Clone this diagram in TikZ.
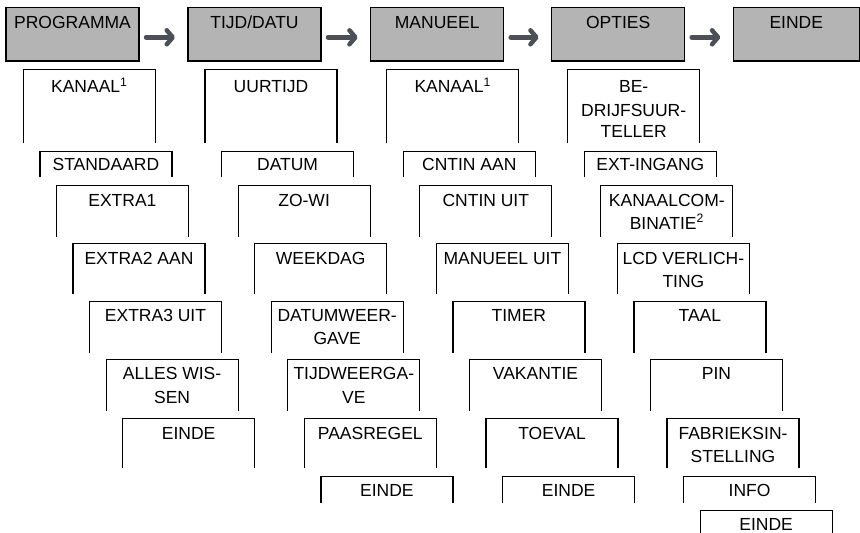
\documentclass[tikz,border=0pt]{standalone}
\usepackage{fontspec}
\setmainfont{Liberation Sans}
\usetikzlibrary{arrows.meta}
\definecolor{topgray}{RGB}{180,180,180}
\definecolor{arrowgray}{RGB}{74,80,86}
\tikzset{
  topbox/.style={draw=black, line width=1.2pt, fill=topgray, anchor=north west,
    inner sep=0pt, outer sep=0pt, minimum width=133pt,
    text height=21.4pt, text depth=32.3pt,
    font=\fontsize{17.5pt}{23pt}\selectfont},
  boxarea/.style={anchor=north west, inner sep=0pt, outer sep=0pt, minimum width=132pt},
  frame/.style={line width=1.2pt, line cap=butt, line join=miter},
  lbl/.style={anchor=north, inner sep=0pt, align=center,
    font=\fontsize{17.5pt}{23pt}\selectfont},
  flow/.style={draw=arrowgray, line width=4.5pt, line cap=round,
    -{Straight Barb[length=6pt, width=14pt, round]},
    shorten <=7pt, shorten >=13pt}
}
% name, x, top, height, shift of text top, text
\newcommand\optbox[6]{%
  \node[boxarea, minimum height=#4pt] (#1) at (#2,#3) {};
  \draw[frame] (#1.south west) -- (#1.north west) -- (#1.north east) -- (#1.south east);
  \node[lbl] (#1t) at ([yshift=-#5pt]#1.north) {\rule{0pt}{15pt}#6};
}
\begin{document}
\begin{tikzpicture}[x=1pt, y=-1pt]
\useasboundingbox (0,0) rectangle (860,533);

% top row
\node[topbox] (prog) at (6,7.3) {PROGRAMMA};
\node[topbox] (tijd) at (188,7.3) {TIJD/DATU};
\node[topbox] (man) at (370.7,7.3) {MANUEEL};
\node[topbox] (opt) at (551.7,7.3) {OPTIES};
\node[topbox, minimum width=126pt] (end) at (733.3,7.3) {EINDE};

\draw[flow] ([yshift=-3.15pt]prog.east) -- ([yshift=-3.15pt]tijd.west);
\draw[flow] ([yshift=-3.15pt]tijd.east) -- ([yshift=-3.15pt]man.west);
\draw[flow] ([yshift=-3.15pt]man.east) -- ([yshift=-3.15pt]opt.west);
\draw[flow] ([yshift=-3.15pt]opt.east) -- ([yshift=-3.15pt]end.west);

% column 1
\optbox{a1}{23.3}{69.3}{74}{8.4}{KANAAL\textsuperscript{1}}
\optbox{a2}{39.9}{151.7}{25.6}{4}{STANDAARD}
\optbox{a3}{56.4}{185.3}{51.4}{5.7}{EXTRA1}
\optbox{a4}{73.0}{243.3}{51}{6}{EXTRA2 AAN}
\optbox{a5}{89.5}{301.7}{51}{5}{EXTRA3 UIT}
\optbox{a6}{106.1}{359.3}{51.4}{5}{ALLES WIS-\\[1pt]SEN}
\optbox{a7}{122.6}{418.3}{50}{6}{EINDE}

% column 2
\optbox{b1}{205}{69.3}{74}{8.4}{UURTIJD}
\optbox{b2}{221.6}{151.7}{25.6}{4}{DATUM}
\optbox{b3}{238.1}{185.3}{51.4}{5.7}{ZO-WI}
\optbox{b4}{254.7}{243.3}{51}{6}{WEEKDAG}
\optbox{b5}{271.2}{301.7}{51}{5}{DATUMWEER-\\GAVE}
\optbox{b6}{287.8}{359.3}{51.4}{5}{TIJDWEERGA-\\[1pt]VE}
\optbox{b7}{304.3}{418.3}{50}{6}{PAASREGEL}
\optbox{b8}{320.9}{476.3}{26.4}{5.4}{EINDE}

% column 3
\optbox{c1}{386.7}{69.3}{74}{8.4}{KANAAL\textsuperscript{1}}
\optbox{c2}{403.3}{151.7}{25.6}{4}{CNTIN AAN}
\optbox{c3}{419.8}{185.3}{51.4}{5.7}{CNTIN UIT}
\optbox{c4}{436.4}{243.3}{51}{6}{MANUEEL UIT}
\optbox{c5}{452.9}{301.7}{51}{5}{TIMER}
\optbox{c6}{469.5}{359.3}{51.4}{5}{VAKANTIE}
\optbox{c7}{486.0}{418.3}{50}{6}{TOEVAL}
\optbox{c8}{502.6}{476.3}{26.4}{5.4}{EINDE}

% column 4
\optbox{d1}{567.7}{69.3}{74}{8.4}{BE-\\[1pt]DRIJFSUUR-\\[-2.4pt]TELLER}
\optbox{d2}{584.3}{151.7}{25.6}{4}{EXT-INGANG}
\optbox{d3}{600.8}{185.3}{51.4}{5.7}{KANAALCOM-\\BINATIE\textsuperscript{2}}
\optbox{d4}{617.4}{243.3}{51}{6}{LCD VERLICH-\\TING}
\optbox{d5}{633.9}{301.7}{51}{5}{TAAL}
\optbox{d6}{650.5}{359.3}{51.4}{5}{PIN}
\optbox{d7}{667.0}{418.3}{50}{6}{FABRIEKSIN-\\STELLING}
\optbox{d8}{683.6}{476.3}{26.4}{5.4}{INFO}
\optbox{d9}{700.1}{510.7}{22.8}{5.0}{EINDE}
\end{tikzpicture}
\end{document}
